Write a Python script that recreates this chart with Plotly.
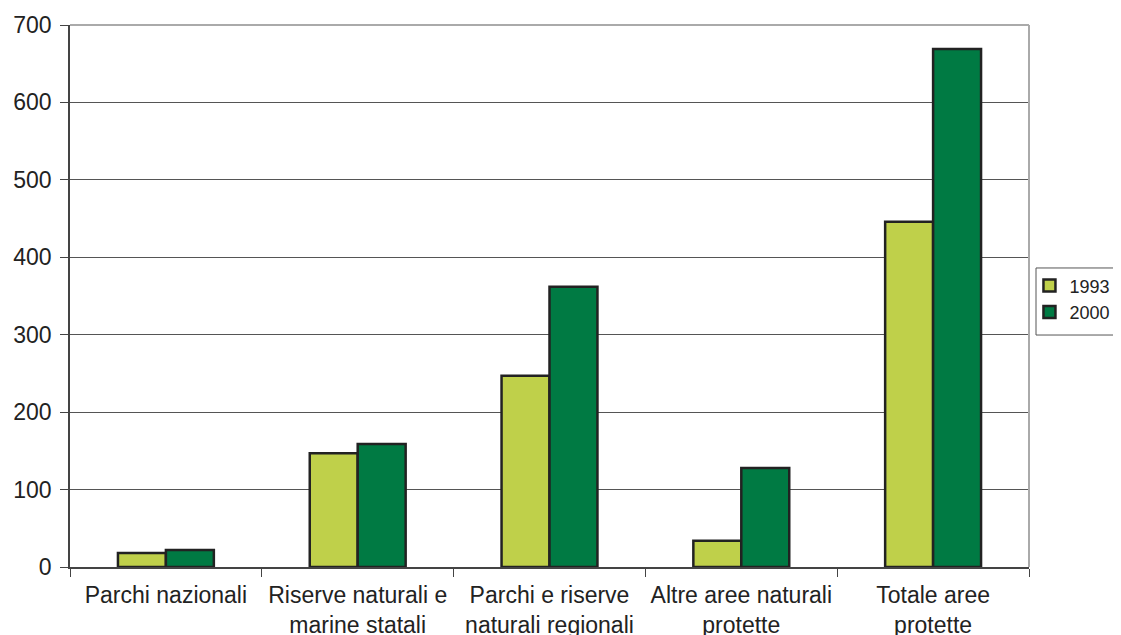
import plotly.graph_objects as go

categories = ["Parchi nazionali", "Riserve naturali e<br>marine statali",
              "Parchi e riserve<br>naturali regionali", "Altre aree naturali<br>protette",
              "Totale aree<br>protette"]
values_1993 = [18, 147, 247, 34, 446]
values_2000 = [22, 159, 362, 128, 669]

fig = go.Figure()
fig.add_trace(go.Bar(name="1993", x=categories, y=values_1993,
                     marker=dict(color="#BFD04A", line=dict(color="#222222", width=2.5))))
fig.add_trace(go.Bar(name="2000", x=categories, y=values_2000,
                     marker=dict(color="#007A43", line=dict(color="#222222", width=2.5))))

fig.update_layout(
    width=1121, height=635,
    margin=dict(l=62, r=100, t=17, b=76),
    paper_bgcolor="white", plot_bgcolor="white",
    barmode="group", bargap=0.5, bargroupgap=0,
    font=dict(family="Liberation Sans, Arial, sans-serif", size=22, color="#222222"),
    legend=dict(xref="container", yref="container", x=0.9112, y=0.542,
                xanchor="left", yanchor="middle",
                borderwidth=0, bgcolor="rgba(0,0,0,0)",
                font=dict(size=18), tracegroupgap=0, itemwidth=30),
    showlegend=True,
)
fig.update_xaxes(
    automargin=False, tickangle=0,
    showline=True, linecolor="#444444", linewidth=1.5,
    ticks="outside", tickson="boundaries", ticklen=8, tickcolor="#444444",
    showgrid=False, tickfont=dict(size=23), ticklabelstandoff=7,
)
fig.update_yaxes(
    automargin=False,
    range=[0, 700], dtick=100, showline=True, linecolor="#444444", linewidth=1.5,
    ticks="outside", ticklen=8, tickcolor="#444444",
    showgrid=True, gridcolor="#555555", gridwidth=1, zeroline=False,
    tickfont=dict(size=23), ticklabelstandoff=4,
)
# plot frame (top/right) and legend box
fig.add_shape(type="line", xref="paper", yref="paper", x0=0, x1=1, y0=1, y1=1,
              line=dict(color="#AAAAAA", width=2))
fig.add_shape(type="line", xref="paper", yref="paper", x0=1, x1=1, y0=0, y1=1,
              line=dict(color="#AAAAAA", width=2))
fig.add_shape(type="rect", xref="paper", yref="paper", x0=1.0073, x1=1.0928,
              y0=0.428, y1=0.5517, line=dict(color="#555555", width=1), layer="below")

fig.write_html("out.html")
